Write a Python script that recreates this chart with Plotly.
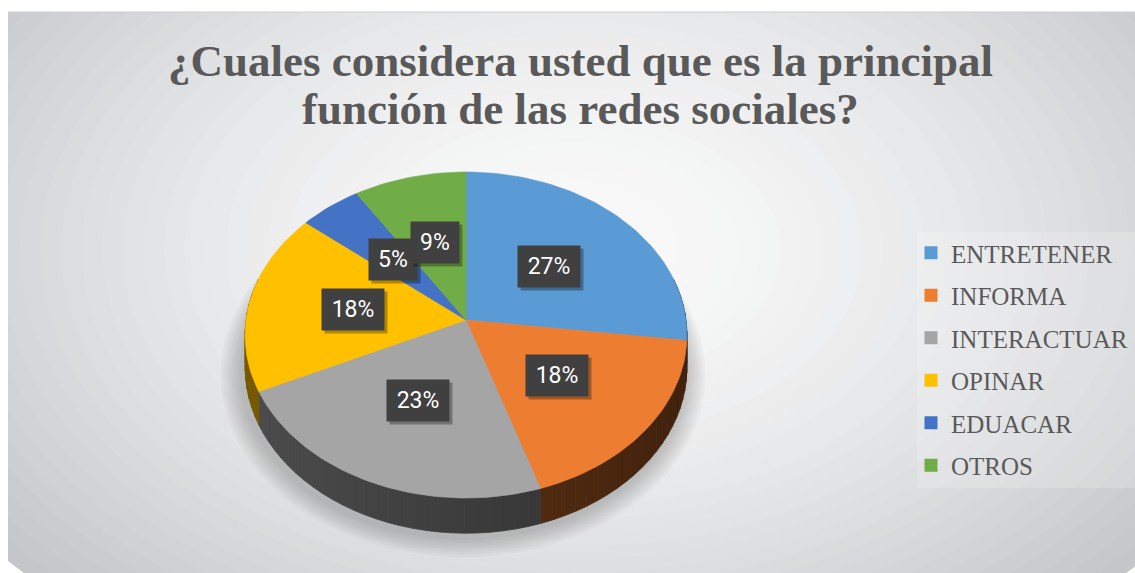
import math
import plotly.graph_objects as go

# --- data -------------------------------------------------------------
categories = ["ENTRETENER", "INFORMA", "INTERACTUAR", "OPINAR", "EDUACAR", "OTROS"]
values = [27, 18, 23, 18, 5, 9]
colors = ["#5B9BD5", "#ED7D31", "#A5A5A5", "#FFC000", "#4472C4", "#70AD47"]
title_lines = ["¿Cuales considera usted que es la principal",
               "función de las redes sociales?"]

# --- canvas (pixel-like coordinates, y grows downward) -----------------
W, H = 1135, 573
CX, CY = 466, 320          # pie centre on screen
RX, RY = 220, 161.6        # radii of the top face
PERSP = 0.092              # perspective strength (far side smaller)
DEPTH = 32                 # thickness of the pie


def project(u, v, drop=0.0):
    """Map a point of the unit disk (u right, v far) to screen coords."""
    w = 1 + PERSP * v
    return CX + RX * u / w, CY - RY * v / w + drop / w


def rim(a_deg, r=1.0, drop=0.0):
    a = math.radians(a_deg)
    return project(r * math.sin(a), r * math.cos(a), drop)


def shade(hex_color, f):
    h = hex_color.lstrip("#")
    r, g, b = (int(h[i:i + 2], 16) for i in (0, 2, 4))
    return "rgb(%d,%d,%d)" % (r * f, g * f, b * f)


total = sum(values)
bounds = [0.0]
for v in values:
    bounds.append(bounds[-1] + 360.0 * v / total)

fig = go.Figure()

# soft shadow under the pie
for i in range(8):
    grow = 1.0 + 0.012 * (8 - i)
    xs, ys = [], []
    for s in range(0, 361, 4):
        a = math.radians(s)
        x, y = project(grow * math.sin(a), grow * math.cos(a), DEPTH + 4)
        xs.append(x - 3)
        ys.append(y)
    fig.add_trace(go.Scatter(x=xs, y=ys, mode="lines", fill="toself",
                             fillcolor="rgba(60,60,70,0.035)",
                             line=dict(width=0), hoverinfo="skip",
                             showlegend=False))

# side walls (only the near half is visible)
for i, (a0, a1) in enumerate(zip(bounds[:-1], bounds[1:])):
    lo, hi = max(a0, 75.0), min(a1, 285.0)
    if lo >= hi:
        continue
    n = max(1, int((hi - lo) / 3))
    step = (hi - lo) / n
    for j in range(n):
        s0, s1 = lo + j * step, lo + (j + 1) * step
        mid = math.radians((s0 + s1) / 2)
        f = 0.37 - 0.1 * math.sin(mid)
        top = [rim(s0 + (s1 - s0) * t / 4) for t in range(5)]
        bot = [rim(s0 + (s1 - s0) * t / 4, drop=DEPTH) for t in range(5)][::-1]
        pts = top + bot + [top[0]]
        c = shade(colors[i], f)
        fig.add_trace(go.Scatter(x=[p[0] for p in pts], y=[p[1] for p in pts],
                                 mode="lines", fill="toself", fillcolor=c,
                                 line=dict(width=0.8, color=c),
                                 hoverinfo="skip", showlegend=False))

# top faces
for i, (a0, a1) in enumerate(zip(bounds[:-1], bounds[1:])):
    n = max(2, int((a1 - a0) / 1.5))
    pts = [(CX, CY)] + [rim(a0 + (a1 - a0) * t / n) for t in range(n + 1)] + [(CX, CY)]
    fig.add_trace(go.Scatter(x=[p[0] for p in pts], y=[p[1] for p in pts],
                             mode="lines", fill="toself", fillcolor=colors[i],
                             line=dict(width=0.6, color=colors[i]),
                             name=categories[i], hoverinfo="name",
                             showlegend=False))

# legend entries (square swatches)
for i, name in enumerate(categories):
    fig.add_trace(go.Scatter(x=[None], y=[None], mode="markers",
                             marker=dict(symbol="square", size=13, color=colors[i]),
                             name=name, legendgroup=name, showlegend=True))

# percentage labels in dark boxes (with a drop shadow box behind)
for i, (a0, a1) in enumerate(zip(bounds[:-1], bounds[1:])):
    x, y = rim((a0 + a1) / 2, r=0.52)
    txt = "%d%%" % values[i]
    bw = 14 * len(txt) + 18
    fig.add_annotation(x=x, y=y, xref="x", yref="y", text="&nbsp;",
                       showarrow=False, xshift=3, yshift=-3,
                       width=bw, height=39, bgcolor="rgba(0,0,0,0.30)",
                       font=dict(family="Roboto", size=10, color="rgba(0,0,0,0)"))
    fig.add_annotation(x=x, y=y, xref="x", yref="y", text=txt,
                       showarrow=False, width=bw, height=39, bgcolor="#404040",
                       font=dict(family="Roboto", size=23, color="#ffffff"))

# title
for k, line in enumerate(title_lines):
    fig.add_annotation(x=580, y=61 + 48 * k, xref="x", yref="y", text="<b>%s</b>" % line,
                       showarrow=False, yanchor="middle",
                       font=dict(family="Liberation Serif", size=45, color="#595959"))

# background: radial light-grey gradient built from nested ellipses
shapes = []
edge = (196, 198, 202)
N = 36
for k in range(N):
    t = k / (N - 1)
    rx = 720 * (1 - t) + 20
    ry = 470 * (1 - t) + 14
    mix = 1 - (1 - t) ** 1.6
    c = tuple(int(edge[j] + (250 - edge[j]) * mix) for j in range(3))
    shapes.append(dict(type="circle", xref="x", yref="y", layer="below",
                       x0=575 - rx, x1=575 + rx, y0=250 - ry, y1=250 + ry,
                       fillcolor="rgb(%d,%d,%d)" % c, line=dict(width=0)))
# white page margins and the frame edge
shapes.append(dict(type="rect", xref="x", yref="y", layer="below",
                   x0=-400, x1=W + 400, y0=-400, y1=12, fillcolor="white", line=dict(width=0)))
shapes.append(dict(type="rect", xref="x", yref="y", layer="below",
                   x0=-400, x1=8, y0=-400, y1=H + 400, fillcolor="white", line=dict(width=0)))
shapes.append(dict(type="line", xref="x", yref="y", layer="below",
                   x0=8, x1=W, y0=12, y1=12, line=dict(color="#cfcfcf", width=1)))
# faint legend panel
shapes.append(dict(type="rect", xref="x", yref="y", layer="below",
                   x0=917, x1=W, y0=232, y1=488,
                   fillcolor="rgba(255,255,255,0.18)", line=dict(width=0)))

fig.update_layout(
    width=W, height=H,
    margin=dict(l=0, r=0, t=0, b=0),
    paper_bgcolor="white", plot_bgcolor="rgba(0,0,0,0)",
    xaxis=dict(range=[0, W], visible=False, fixedrange=True),
    yaxis=dict(range=[H, 0], visible=False, fixedrange=True),
    shapes=shapes,
    showlegend=True,
    legend=dict(x=911 / W, y=1 - 230 / H, xanchor="left", yanchor="top",
                bgcolor="rgba(0,0,0,0)", tracegroupgap=7,
                font=dict(family="Liberation Serif", size=25, color="#595959"),
                itemwidth=30),
)

fig.write_html("out.html")
